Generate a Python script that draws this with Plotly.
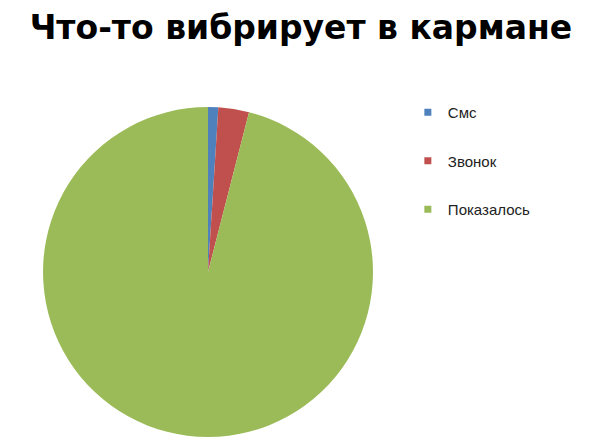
import plotly.graph_objects as go

# Data
labels = ["Смс", "Звонок", "Показалось"]
values = [1, 3, 96]
colors = ["#4F81BD", "#C0504D", "#9BBB59"]

title_text = "Что-то вибрирует в кармане"

fig = go.Figure()

# pie itself, legend drawn by dummy traces so the items can be spaced out
fig.add_trace(go.Pie(
    labels=labels,
    values=values,
    marker=dict(colors=colors, line=dict(width=0)),
    sort=False,
    direction="clockwise",
    rotation=0,
    textinfo="none",
    hoverinfo="label+percent",
    showlegend=False,
    domain=dict(x=[0.058, 0.6043], y=[0.036, 0.7775]),
))

for lab, col in zip(labels, colors):
    fig.add_trace(go.Scatter(
        x=[None], y=[None],
        mode="markers",
        name=lab,
        legendgroup=lab,
        marker=dict(symbol="square", size=7, color=col),
    ))

fig.update_layout(
    width=604,
    height=445,
    margin=dict(l=0, r=0, t=0, b=0),
    paper_bgcolor="white",
    plot_bgcolor="white",
    title=dict(
        text="<b>" + title_text + "</b>",
        font=dict(family="DejaVu Sans, Arial, sans-serif", size=33, color="black"),
        x=0.485, xanchor="center",
        y=1 - 19 / 445, yanchor="middle",
        yref="container",
    ),
    xaxis=dict(visible=False),
    yaxis=dict(visible=False),
    legend=dict(
        x=0.662, y=1 - 88 / 445,
        xanchor="left", yanchor="top",
        font=dict(family="Liberation Sans, Arial, sans-serif", size=15, color="#222"),
        tracegroupgap=26,
        bgcolor="rgba(0,0,0,0)",
    ),
)

fig.write_html("out.html")
